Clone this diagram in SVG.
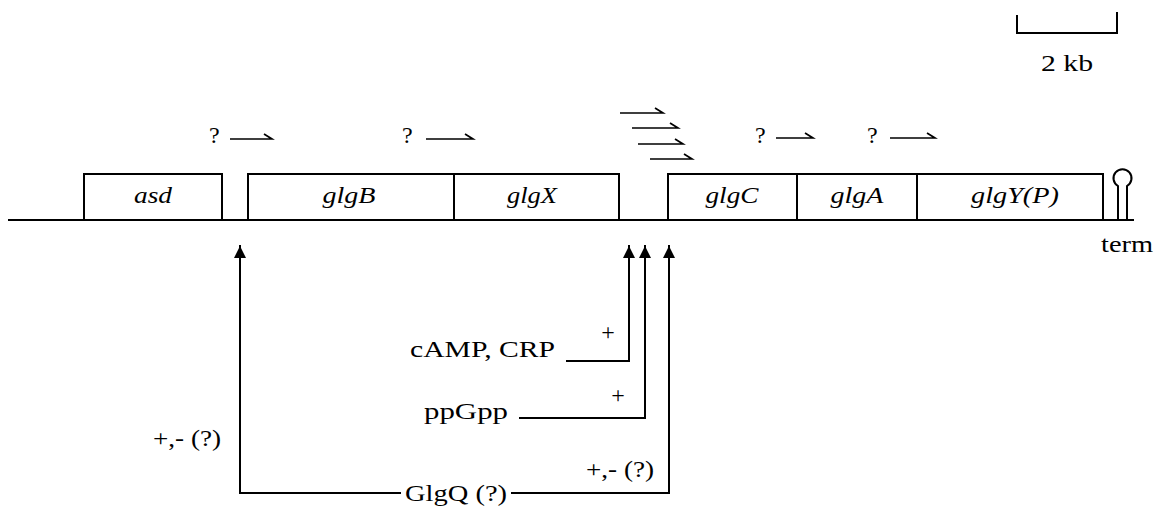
<svg xmlns="http://www.w3.org/2000/svg" width="1162" height="512" viewBox="0 0 1162 512">
<style>
.ln{fill:none;stroke:#000;stroke-width:2;stroke-linecap:square}
.th{fill:none;stroke:#000;stroke-width:1.7}
.box{fill:#fff;stroke:#000;stroke-width:2}
.t{font-family:"Liberation Serif","Times New Roman",serif;font-size:24px;fill:#000}
.g{font-family:"Liberation Serif","Times New Roman",serif;font-size:24px;font-style:italic;fill:#000;text-anchor:middle}
</style>
<defs>
<marker id="ah" markerWidth="12" markerHeight="14" refX="12" refY="6" orient="auto" markerUnits="userSpaceOnUse" viewBox="0 0 12 12">
<path d="M0,0 L12,6 L0,12 Z" fill="#000"/>
</marker>
</defs>
<rect width="1162" height="512" fill="#fff"/>
<g id="scalebar">
<path class="ln" d="M1017,16 V33 H1117 V13"/>
<text class="t" x="1041" y="71" textLength="52" lengthAdjust="spacingAndGlyphs">2 kb</text>
</g>
<g id="dna">
<path class="ln" d="M9,220 H1133"/>
</g>
<g id="asd"><rect class="box" x="84" y="174" width="138" height="46"/><text class="g" x="153" y="203" textLength="38" lengthAdjust="spacingAndGlyphs">asd</text></g>
<g id="glgB"><rect class="box" x="248" y="174" width="206" height="46"/><text class="g" x="349" y="203" textLength="53" lengthAdjust="spacingAndGlyphs">glgB</text></g>
<g id="glgX"><rect class="box" x="454" y="174" width="165" height="46"/><text class="g" x="532" y="203" textLength="50" lengthAdjust="spacingAndGlyphs">glgX</text></g>
<g id="glgC"><rect class="box" x="668" y="174" width="129" height="46"/><text class="g" x="732" y="203" textLength="53" lengthAdjust="spacingAndGlyphs">glgC</text></g>
<g id="glgA"><rect class="box" x="797" y="174" width="120" height="46"/><text class="g" x="857" y="203" textLength="53" lengthAdjust="spacingAndGlyphs">glgA</text></g>
<g id="glgY"><rect class="box" x="917" y="174" width="186" height="46"/><text class="g" x="1015" y="203" textLength="88" lengthAdjust="spacingAndGlyphs">glgY(P)</text></g>
<g id="term">
<path class="ln" d="M1118,220 V186 A9,9 0 1 1 1127,186 V220"/>
<text class="t" x="1101" y="252" textLength="52" lengthAdjust="spacingAndGlyphs">term</text>
</g>
<g id="promoters">
<text class="t" x="209" y="143" font-size="25">?</text>
<path class="th" d="M230,139 H272 L264,134"/>
<text class="t" x="402" y="143" font-size="25">?</text>
<path class="th" d="M426,139 H473 L465,134"/>
<path class="th" d="M620,113 H663 L655,108"/>
<path class="th" d="M632,128 H678 L670,123"/>
<path class="th" d="M638,144 H683 L675,139"/>
<path class="th" d="M650,159 H692 L684,154"/>
<text class="t" x="755" y="143" font-size="25">?</text>
<path class="th" d="M776,138 H813 L805,133"/>
<text class="t" x="867" y="143" font-size="25">?</text>
<path class="th" d="M890,138 H935 L927,133"/>
</g>
<g id="cAMP"><text class="t" x="410" y="357" font-size="25" textLength="145" lengthAdjust="spacingAndGlyphs">cAMP, CRP</text><text class="t" x="608" y="340" text-anchor="middle">+</text></g>
<g id="ppGpp"><text class="t" x="424" y="419" font-size="25" textLength="84" lengthAdjust="spacingAndGlyphs">ppGpp</text><text class="t" x="618" y="403" text-anchor="middle">+</text></g>
<g id="GlgQ"><text class="t" x="405" y="501" font-size="25" textLength="102" lengthAdjust="spacingAndGlyphs">GlgQ (?)</text>
<text class="t" x="153" y="446" textLength="68" lengthAdjust="spacingAndGlyphs">+,- (?)</text>
<text class="t" x="586" y="477" textLength="68" lengthAdjust="spacingAndGlyphs">+,- (?)</text></g>
<g id="connectors">
<path class="ln" d="M567,361 H629 V246" marker-end="url(#ah)"/>
<path class="ln" d="M520,418 H645 V246" marker-end="url(#ah)"/>
<path class="ln" d="M400,493 H240 V246" marker-end="url(#ah)"/>
<path class="ln" d="M512,493 H669 V246" marker-end="url(#ah)"/>
</g>
</svg>
